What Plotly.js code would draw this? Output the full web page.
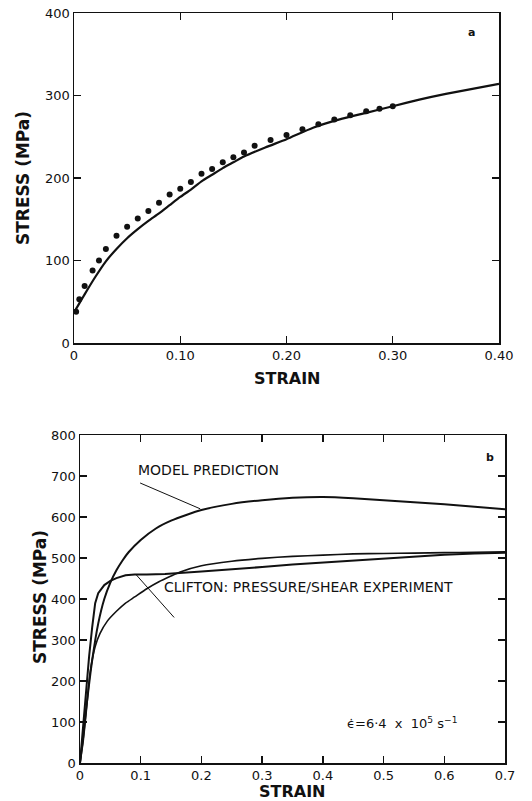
<!DOCTYPE html>
<html><head><meta charset="utf-8">
<script src="https://cdn.plot.ly/plotly-3.0.1.min.js"></script>
<style>html,body{margin:0;padding:0;background:#fff}#chart{width:532px;height:801px}</style>
</head><body><div id="chart"></div>
<script>
// Panel a: measured points and model curve
const strainA_pts = [0.002,0.005,0.010,0.0175,0.0235,0.030,0.040,0.050,0.060,0.070,0.080,0.090,0.100,0.110,0.120,0.130,0.140,0.150,0.160,0.170,0.185,0.200,0.215,0.230,0.245,0.260,0.275,0.2875,0.300];
const stressA_pts = [38,53,69,88,100,114,130,141,151,160,170,180,187,195,205,211,219,225,231,239,246,252,259,265,271,276,281,284,287];
const strainA_model = [0,0.005,0.01,0.02,0.03,0.04,0.05,0.06,0.07,0.08,0.09,0.10,0.11,0.12,0.13,0.14,0.15,0.16,0.18,0.20,0.225,0.25,0.275,0.30,0.325,0.35,0.375,0.40];
const stressA_model = [37,48,59,80,99,114,127,138,148,157,167,177,186,196,204,212,219,226,237,247,261,271,279,287,295,302,308,314];

// Panel b: model prediction, Clifton experiment, third curve
const strainB_model = [0,0.005,0.01,0.02,0.03,0.04,0.05,0.06,0.07,0.08,0.10,0.125,0.15,0.175,0.20,0.25,0.30,0.35,0.40,0.45,0.50,0.55,0.60,0.65,0.70];
const stressB_model = [0,60,130,250,340,400,440,470,494,514,544,572,591,605,617,632,641,647,649,646,641,636,631,625,619];
const strainB_clifton = [0,0.005,0.01,0.015,0.02,0.025,0.03,0.04,0.05,0.06,0.075,0.09,0.11,0.14,0.20,0.25,0.30,0.35,0.40,0.45,0.50,0.55,0.60,0.65,0.70];
const stressB_clifton = [0,90,180,260,330,390,414,434,444,451,458,460,460,461,467,472,478,484,489,494,499,504,508,511,513];
const strainB_third = [0,0.005,0.01,0.0165,0.025,0.033,0.045,0.06,0.075,0.09,0.11,0.13,0.15,0.165,0.20,0.25,0.30,0.35,0.40,0.45,0.50,0.55,0.60,0.65,0.70];
const stressB_third = [0,50,120,219,284,316,346,370,390,405,425,442,456,466,481,492,499,504,507,510,511,512,513,514,515];

// Pointer lines for labels
const modelPointerX = [0.099, 0.198];
const modelPointerY = [683, 620];
const cliftonPointerX = [0.092, 0.155];
const cliftonPointerY = [460, 355];

const tickValsAx = [0,0.1,0.2,0.3,0.4];
const tickTextAx = ['0','0.10','0.20','0.30','0.40'];
const tickValsAy = [0,100,200,300,400];
const tickValsBx = [0,0.1,0.2,0.3,0.4,0.5,0.6,0.7];
const tickTextBx = ['0','0.1','0.2','0.3','0.4','0.5','0.6','0.7'];
const tickValsBy = [0,100,200,300,400,500,600,700,800];

const K = '#111';
const traces = [
  {x: strainA_model, y: stressA_model, mode:'lines', line:{color:K,width:2.2,shape:'spline',smoothing:0.6}, xaxis:'x', yaxis:'y', name:'Model'},
  {x: strainA_pts, y: stressA_pts, mode:'markers', marker:{color:K,size:6}, xaxis:'x', yaxis:'y', name:'Experiment'},
  {x: strainB_model, y: stressB_model, mode:'lines', line:{color:K,width:2,shape:'spline',smoothing:0.6}, xaxis:'x2', yaxis:'y2', name:'Model prediction'},
  {x: strainB_clifton, y: stressB_clifton, mode:'lines', line:{color:K,width:2}, xaxis:'x2', yaxis:'y2', name:'Clifton: pressure/shear experiment'},
  {x: strainB_third, y: stressB_third, mode:'lines', line:{color:K,width:1.6,shape:'spline',smoothing:0.6}, xaxis:'x2', yaxis:'y2', name:'Curve 3'},
  {x: modelPointerX, y: modelPointerY, mode:'lines', line:{color:K,width:1}, xaxis:'x2', yaxis:'y2', hoverinfo:'skip'},
  {x: cliftonPointerX, y: cliftonPointerY, mode:'lines', line:{color:K,width:1}, xaxis:'x2', yaxis:'y2', hoverinfo:'skip'}
];

const tickFont = {family:'DejaVu Sans', size:13, color:K};
const titleFont = {family:'DejaVu Sans', size:16, color:K};
const axBase = {showgrid:false, zeroline:false, showline:true, linecolor:K, linewidth:1.5, mirror:'ticks',
  ticks:'inside', ticklen:7, tickwidth:1.3, tickcolor:K, tickfont:tickFont, automargin:false};

const W = 532, H = 801;
const ctr = {showarrow:false, xanchor:'center', yanchor:'middle'};
const layout = {
  width: W, height: H, margin:{l:0,r:0,t:0,b:0}, showlegend:false,
  paper_bgcolor:'#fff', plot_bgcolor:'#fff',
  xaxis: Object.assign({}, axBase, {domain:[74/W, 499/W], range:[0,0.4], tickvals:tickValsAx, ticktext:tickTextAx, anchor:'y'}),
  yaxis: Object.assign({}, axBase, {domain:[1-343/H, 1-13/H], range:[0,400], tickvals:tickValsAy, anchor:'x'}),
  xaxis2: Object.assign({}, axBase, {domain:[80/W, 505/W], range:[0,0.7], tickvals:tickValsBx, ticktext:tickTextBx, anchor:'y2'}),
  yaxis2: Object.assign({}, axBase, {domain:[1-763/H, 1-435/H], range:[0,800], tickvals:tickValsBy, anchor:'x2'}),
  annotations: [
    Object.assign({xref:'paper', yref:'paper', x:287/W, y:1-378/H, text:'<b>STRAIN</b>', font:titleFont}, ctr),
    Object.assign({xref:'paper', yref:'paper', x:23/W, y:1-178/H, text:'<b>STRESS (MPa)</b>', textangle:-90, font:Object.assign({}, titleFont, {size:17})}, ctr),
    Object.assign({xref:'paper', yref:'paper', x:292/W, y:1-791/H, text:'<b>STRAIN</b>', font:titleFont}, ctr),
    Object.assign({xref:'paper', yref:'paper', x:40/W, y:1-597/H, text:'<b>STRESS (MPa)</b>', textangle:-90, font:Object.assign({}, titleFont, {size:17})}, ctr),
    Object.assign({xref:'x', yref:'y', x:0.374, y:376, text:'<b>a</b>', font:{family:'DejaVu Sans', size:11, color:K}}, ctr),
    Object.assign({xref:'x2', yref:'y2', x:0.675, y:746, text:'<b>b</b>', font:{family:'DejaVu Sans', size:11, color:K}}, ctr),
    Object.assign({xref:'x2', yref:'y2', x:0.211, y:715, text:'MODEL PREDICTION', font:{family:'DejaVu Sans', size:14, color:K}}, ctr),
    Object.assign({xref:'x2', yref:'y2', x:0.135, y:429, text:'CLIFTON: PRESSURE/SHEAR EXPERIMENT', font:{family:'DejaVu Sans', size:14, color:K}}, ctr, {xanchor:'left'}),
    Object.assign({xref:'x2', yref:'y2', x:0.53, y:98, text:'\u03F5\u0307=6\u00B74  x  10<sup>5</sup> s<sup>\u22121</sup>', font:{family:'DejaVu Sans', size:13, color:K}}, ctr)
  ]
};
Plotly.newPlot('chart', traces, layout, {displayModeBar:false, staticPlot:true});
</script></body></html>
